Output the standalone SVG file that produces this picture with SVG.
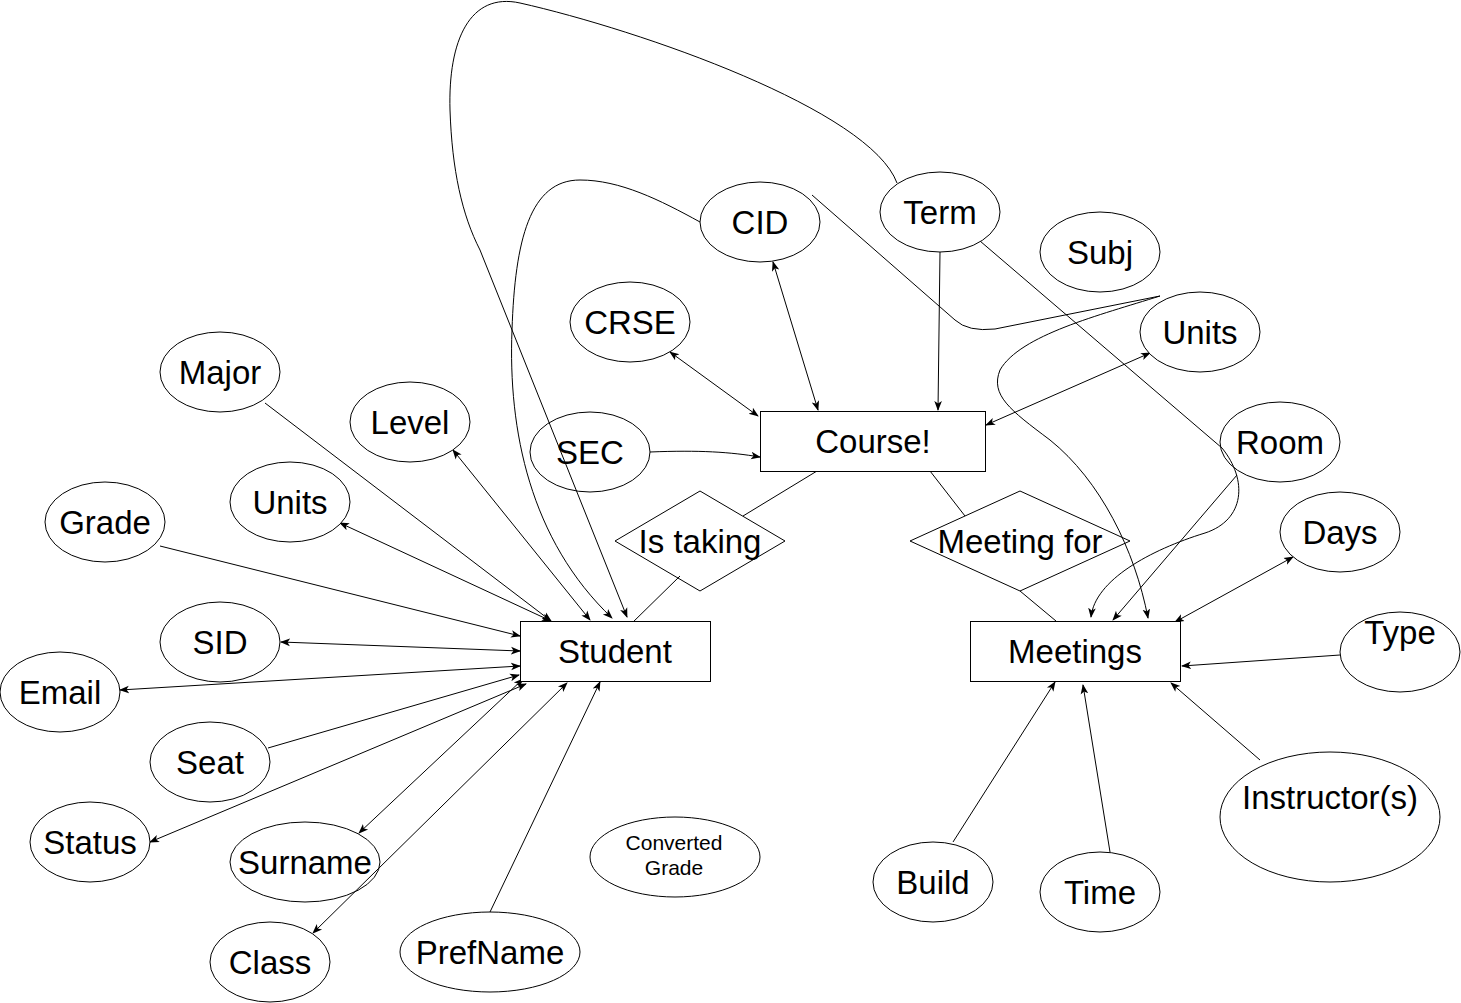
<svg xmlns="http://www.w3.org/2000/svg" width="1461" height="1003" viewBox="0 0 1461 1003">
<style>
.s{fill:#fff;stroke:#000;stroke-width:1}
.t{font-family:"Liberation Sans",Arial,sans-serif;font-size:33px;fill:#000;text-anchor:middle}
.ts{font-family:"Liberation Sans",Arial,sans-serif;font-size:21px;fill:#000;text-anchor:middle}
.c path,.c line{fill:none;stroke:#000;stroke-width:1}
.a{marker-end:url(#ar)}
.b{marker-end:url(#ar);marker-start:url(#ar)}
</style>
<defs>
<marker id="ar" viewBox="0 0 10 10" refX="9" refY="5" markerWidth="10" markerHeight="10" markerUnits="userSpaceOnUse" orient="auto-start-reverse">
<path d="M0,1.2 L10,5 L0,8.8 L2.5,5 Z" fill="#000" stroke="none"/>
</marker>
</defs>
<rect width="1461" height="1003" fill="#fff"/>
<g class="c" id="connectors">
<path d="M897,183 C870,110 640,30 520,3 C470,-8 448,40 450,110 C452,170 462,215 480,250 L627,617" class="a"/>
<path d="M700,222 C660,200 620,180 580,180 C530,180 515,240 512,330 C508,430 530,540 612,618" class="a"/>
<path d="M812,195 L955,320 Q968,332 995,329 L1160,296 C1100,315 1020,335 1000,370 C990,395 1010,410 1050,440 C1100,480 1135,550 1148,618" class="a"/>
<path d="M980,241 L1222,448 C1248,480 1245,520 1205,533 C1150,550 1095,580 1091,617" class="a"/>
<line x1="265" y1="403" x2="551" y2="621" class="a"/>
<line x1="453" y1="450" x2="590" y2="620" class="b"/>
<line x1="340" y1="523" x2="551" y2="621" class="b"/>
<line x1="160" y1="546" x2="520" y2="636" class="a"/>
<line x1="281" y1="642" x2="520" y2="651" class="b"/>
<line x1="120" y1="690" x2="520" y2="666" class="b"/>
<line x1="268" y1="748" x2="519" y2="675" class="a"/>
<line x1="150" y1="842" x2="526" y2="684" class="b"/>
<line x1="359" y1="833" x2="523" y2="679" class="b"/>
<line x1="313" y1="933" x2="567" y2="683" class="b"/>
<line x1="490" y1="912" x2="600" y2="682" class="a"/>
<line x1="773" y1="262" x2="818" y2="410" class="b"/>
<line x1="670" y1="352" x2="758" y2="416" class="b"/>
<path d="M650,452 C700,450 730,452 760,457" class="a"/>
<line x1="940" y1="252" x2="938" y2="410" class="a"/>
<line x1="1150" y1="353" x2="986" y2="425" class="b"/>
<line x1="817" y1="471" x2="743" y2="516"/>
<line x1="680" y1="576" x2="630" y2="625"/>
<line x1="930" y1="471" x2="965" y2="516"/>
<line x1="1020" y1="591" x2="1056" y2="621"/>
<line x1="1237" y1="475" x2="1113" y2="620" class="a"/>
<line x1="1293" y1="557" x2="1175" y2="622" class="b"/>
<line x1="1340" y1="655" x2="1182" y2="666" class="a"/>
<line x1="1260" y1="760" x2="1171" y2="683" class="a"/>
<line x1="953" y1="842" x2="1055" y2="682" class="a"/>
<line x1="1110" y1="852" x2="1083" y2="685" class="a"/>
</g>
<g id="course"><rect class="s" x="760.5" y="411.5" width="225" height="60"/><text class="t" x="873" y="453">Course!</text></g>
<g id="student"><rect class="s" x="520.5" y="621.5" width="190" height="60"/><text class="t" x="615" y="663">Student</text></g>
<g id="meetings"><rect class="s" x="970.5" y="621.5" width="210" height="60"/><text class="t" x="1075" y="663">Meetings</text></g>
<g id="istaking"><polygon class="s" points="700,491 785,541 700,591 615,541" fill-opacity="0"/><text class="t" x="700" y="553">Is taking</text></g>
<g id="meetingfor"><polygon class="s" points="1020,491 1130,541 1020,591 910,541" fill-opacity="0"/><text class="t" x="1020" y="553">Meeting for</text></g>
<g id="cid"><ellipse class="s" cx="760" cy="222" rx="60" ry="40"/><text class="t" x="760" y="234">CID</text></g>
<g id="term"><ellipse class="s" cx="940" cy="212" rx="60" ry="40"/><text class="t" x="940" y="224">Term</text></g>
<g id="subj"><ellipse class="s" cx="1100" cy="252" rx="60" ry="40"/><text class="t" x="1100" y="264">Subj</text></g>
<g id="units2"><ellipse class="s" cx="1200" cy="332" rx="60" ry="40"/><text class="t" x="1200" y="344">Units</text></g>
<g id="crse"><ellipse class="s" cx="630" cy="322" rx="60" ry="40"/><text class="t" x="630" y="334">CRSE</text></g>
<g id="sec"><ellipse class="s" cx="590" cy="452" rx="60" ry="40" fill-opacity="0"/><text class="t" x="590" y="464">SEC</text></g>
<g id="major"><ellipse class="s" cx="220" cy="372" rx="60" ry="40"/><text class="t" x="220" y="384">Major</text></g>
<g id="level"><ellipse class="s" cx="410" cy="422" rx="60" ry="40"/><text class="t" x="410" y="434">Level</text></g>
<g id="units1"><ellipse class="s" cx="290" cy="502" rx="60" ry="40"/><text class="t" x="290" y="514">Units</text></g>
<g id="grade"><ellipse class="s" cx="105" cy="522" rx="60" ry="40"/><text class="t" x="105" y="534">Grade</text></g>
<g id="sid"><ellipse class="s" cx="220" cy="642" rx="60" ry="40"/><text class="t" x="220" y="654">SID</text></g>
<g id="email"><ellipse class="s" cx="60" cy="692" rx="60" ry="40"/><text class="t" x="60" y="704">Email</text></g>
<g id="seat"><ellipse class="s" cx="210" cy="762" rx="60" ry="40"/><text class="t" x="210" y="774">Seat</text></g>
<g id="status"><ellipse class="s" cx="90" cy="842" rx="60" ry="40"/><text class="t" x="90" y="854">Status</text></g>
<g id="surname"><ellipse class="s" cx="305" cy="862" rx="75" ry="40" fill-opacity="0"/><text class="t" x="305" y="874">Surname</text></g>
<g id="class"><ellipse class="s" cx="270" cy="962" rx="60" ry="40"/><text class="t" x="270" y="974">Class</text></g>
<g id="prefname"><ellipse class="s" cx="490" cy="952" rx="90" ry="40"/><text class="t" x="490" y="964">PrefName</text></g>
<g id="convertedgrade"><ellipse class="s" cx="675" cy="857" rx="85" ry="40"/><text class="ts" x="674" y="850">Converted</text><text class="ts" x="674" y="875">Grade</text></g>
<g id="room"><ellipse class="s" cx="1280" cy="442" rx="60" ry="40" fill-opacity="0"/><text class="t" x="1280" y="454">Room</text></g>
<g id="days"><ellipse class="s" cx="1340" cy="532" rx="60" ry="40"/><text class="t" x="1340" y="544">Days</text></g>
<g id="type"><ellipse class="s" cx="1400" cy="652" rx="60" ry="40"/><text class="t" x="1400" y="644">Type</text></g>
<g id="instructors"><ellipse class="s" cx="1330" cy="817" rx="110" ry="65"/><text class="t" x="1330" y="809">Instructor(s)</text></g>
<g id="build"><ellipse class="s" cx="933" cy="882" rx="60" ry="40"/><text class="t" x="933" y="894">Build</text></g>
<g id="time"><ellipse class="s" cx="1100" cy="892" rx="60" ry="40"/><text class="t" x="1100" y="904">Time</text></g>
</svg>
